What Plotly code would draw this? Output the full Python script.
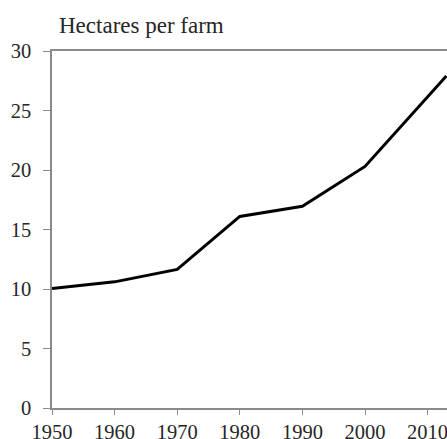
import plotly.graph_objects as go

years = [1950, 1960, 1970, 1980, 1990, 2000, 2013]
hectares = [10.05, 10.6, 11.65, 16.1, 16.95, 20.3, 27.9]
x_ticks = [1950, 1960, 1970, 1980, 1990, 2000, 2010]
y_ticks = [0, 5, 10, 15, 20, 25, 30]
title_text = "Hectares per farm"

font_family = "Liberation Serif, Times New Roman, serif"

fig = go.Figure()
fig.add_trace(go.Scatter(
    x=years, y=hectares, mode="lines",
    line=dict(color="black", width=3),
    showlegend=False, hoverinfo="skip",
))

fig.update_layout(
    width=447, height=439,
    margin=dict(l=52, r=0, t=51, b=31),
    paper_bgcolor="white", plot_bgcolor="white",
    font=dict(family=font_family, size=20.5, color="#262626"),
    annotations=[dict(
        text=title_text, xref="paper", yref="paper",
        x=0, y=1, xanchor="left", yanchor="bottom",
        xshift=5, yshift=11, showarrow=False,
        font=dict(family=font_family, size=23, color="#262626"),
    )],
)
fig.update_xaxes(
    range=[1950, 2013.1], tickvals=x_ticks, ticktext=[str(v) for v in x_ticks],
    showgrid=False, zeroline=False, showline=True, linecolor="#8a8a8a", linewidth=1.5,
    mirror=True, ticks="outside", ticklen=5, tickcolor="#8a8a8a", tickwidth=1,
    automargin=False, ticklabeloverflow="allow",
)
fig.update_yaxes(
    range=[0, 30], tickvals=y_ticks, ticktext=[str(v) for v in y_ticks],
    showgrid=False, zeroline=False, showline=True, linecolor="#8a8a8a", linewidth=1.5,
    ticks="outside", ticklen=7, tickcolor="#8a8a8a", tickwidth=1,
    automargin=False, ticklabelstandoff=8,
)

fig.write_html(
    "out.html",
    config={"displayModeBar": False},
    post_script="document.body.style.margin='0';document.body.style.overflow='hidden';",
)
